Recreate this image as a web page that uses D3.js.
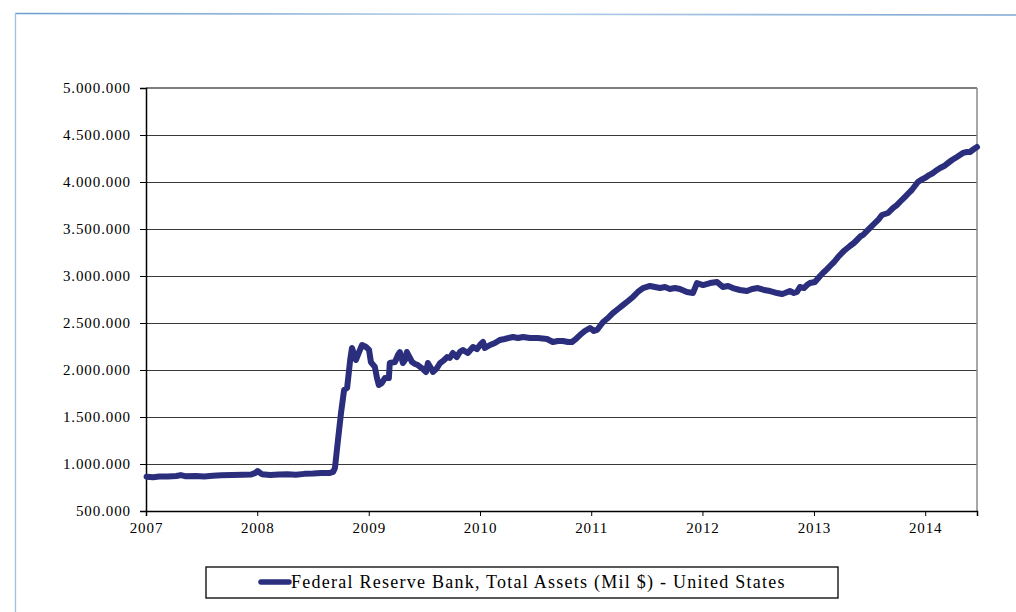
<!DOCTYPE html>
<html>
<head>
<meta charset="utf-8">
<script src="https://cdn.jsdelivr.net/npm/d3@7/dist/d3.min.js"></script>
<style>
html,body{margin:0;padding:0;background:#fff;}
svg{display:block;}
text{font-family:"Liberation Serif","Times New Roman",serif;fill:#000;}
</style>
</head>
<body>
<svg id="chart" width="1016" height="612"></svg>
<script>
// ---- data (values in millions of $) ----
const seriesName = "Federal Reserve Bank, Total Assets (Mil $) - United States";
const dates = [
"2007-01-03","2007-01-24","2007-02-14","2007-03-14","2007-04-11","2007-04-25","2007-05-09","2007-06-13",
"2007-07-11","2007-08-08","2007-09-05","2007-10-10","2007-11-14","2007-12-12","2007-12-26","2008-01-02",
"2008-01-16","2008-02-13","2008-03-12","2008-04-09","2008-05-07","2008-06-04","2008-07-02","2008-07-30",
"2008-08-27","2008-09-06","2008-09-12","2008-09-22","2008-10-02","2008-10-12","2008-10-22","2008-11-01",
"2008-11-07","2008-11-20","2008-11-30","2008-12-10","2008-12-23","2009-01-02","2009-01-08","2009-01-21",
"2009-01-28","2009-02-03","2009-02-13","2009-02-23","2009-03-08","2009-03-11","2009-03-28","2009-04-07",
"2009-04-13","2009-04-23","2009-04-30","2009-05-06","2009-05-16","2009-05-23","2009-06-02","2009-06-11",
"2009-06-24","2009-07-08","2009-07-14","2009-07-24","2009-07-31","2009-08-13","2009-08-23","2009-09-05",
"2009-09-15","2009-09-24","2009-10-04","2009-10-17","2009-10-27","2009-11-06","2009-11-22","2009-12-09",
"2009-12-22","2010-01-04","2010-01-11","2010-01-17","2010-02-03","2010-02-19","2010-03-07","2010-03-23",
"2010-04-19","2010-05-06","2010-05-22","2010-06-14","2010-07-10","2010-08-09","2010-08-28","2010-09-14",
"2010-09-30","2010-10-17","2010-10-30","2010-11-12","2010-11-25","2010-12-11","2010-12-28","2011-01-10",
"2011-01-20","2011-02-09","2011-02-25","2011-03-13","2011-03-30","2011-04-15","2011-05-02","2011-05-18",
"2011-06-03","2011-06-20","2011-07-13","2011-07-29","2011-08-15","2011-08-31","2011-09-16","2011-10-03",
"2011-10-19","2011-11-11","2011-12-01","2011-12-14","2012-01-03","2012-01-26","2012-02-18","2012-03-08",
"2012-03-25","2012-04-10","2012-05-03","2012-05-26","2012-06-12","2012-07-01","2012-07-21","2012-08-10",
"2012-09-02","2012-09-18","2012-09-28","2012-10-14","2012-10-27","2012-11-06","2012-11-16","2012-11-29",
"2012-12-09","2012-12-19","2013-01-04","2013-01-21","2013-02-03","2013-02-13","2013-02-26","2013-03-08",
"2013-03-21","2013-04-03","2013-04-13","2013-04-29","2013-05-12","2013-05-22","2013-06-04","2013-06-11",
"2013-06-24","2013-07-04","2013-07-20","2013-08-02","2013-08-12","2013-09-01","2013-09-17","2013-09-30",
"2013-10-13","2013-10-26","2013-11-08","2013-11-18","2013-11-28","2013-12-08","2013-12-18","2013-12-31",
"2014-01-14","2014-01-27","2014-02-09","2014-02-19","2014-03-04","2014-03-17","2014-03-30","2014-04-15",
"2014-04-25","2014-05-05","2014-05-18","2014-05-28","2014-06-10","2014-06-20"
];
const assets = [
865000,860000,866000,868000,872000,882000,870000,872000,
868000,874000,880000,882000,885000,888000,905000,925000,
892000,882000,888000,890000,886000,895000,898000,904000,
905000,915000,957000,1255000,1543000,1787000,1810000,2106000,
2234000,2106000,2190000,2266000,2245000,2213000,2085000,2032000,
1915000,1840000,1862000,1915000,1915000,2074000,2085000,2160000,
2191000,2074000,2106000,2191000,2128000,2085000,2064000,2053000,
2021000,1979000,2074000,2021000,1979000,2021000,2074000,2106000,
2138000,2128000,2181000,2138000,2191000,2213000,2181000,2245000,
2223000,2277000,2298000,2234000,2266000,2287000,2319000,2330000,
2351000,2340000,2351000,2340000,2340000,2330000,2298000,2309000,
2309000,2298000,2298000,2330000,2372000,2415000,2447000,2415000,
2426000,2511000,2553000,2606000,2649000,2691000,2734000,2777000,
2830000,2872000,2894000,2883000,2872000,2883000,2862000,2872000,
2862000,2830000,2819000,2925000,2904000,2925000,2936000,2883000,
2894000,2872000,2851000,2840000,2862000,2872000,2851000,2840000,
2819000,2808000,2819000,2840000,2819000,2830000,2883000,2872000,
2904000,2925000,2936000,3000000,3043000,3074000,3117000,3149000,
3202000,3245000,3277000,3319000,3351000,3383000,3426000,3436000,
3479000,3511000,3564000,3606000,3649000,3670000,3723000,3755000,
3798000,3840000,3883000,3915000,3957000,4000000,4021000,4043000,
4074000,4096000,4128000,4149000,4170000,4202000,4234000,4266000,
4287000,4309000,4319000,4319000,4351000,4372000
];
const yTicks = [500000,1000000,1500000,2000000,2500000,3000000,3500000,4000000,4500000,5000000];
const xTickYears = [2007,2008,2009,2010,2011,2012,2013,2014];
const xStart = "2007-01-01", xEnd = "2014-06-20";

// ---- chart ----
const svg = d3.select("#chart");
const parse = d3.timeParse("%Y-%m-%d");
const data = dates.map((d,i)=>({date:parse(d), value:assets[i]}));

const pL=146, pR=977, pT=88, pB=511;
const x = d3.scaleTime().domain([parse(xStart), parse(xEnd)]).range([pL, pR]);
const y = d3.scaleLinear().domain([500000, 5000000]).range([pB, pT]);

const loc = d3.formatLocale({decimal:",", thousands:".", grouping:[3], currency:["","€"]});
const fmt = loc.format(",d");

// outer frame (light blue)
const defs = svg.append("defs");
const grad = defs.append("linearGradient").attr("id","fr").attr("x1","0").attr("x2","1").attr("y1","0").attr("y2","0");
grad.append("stop").attr("offset","0").attr("stop-color","#6e9dcc");
grad.append("stop").attr("offset","0.45").attr("stop-color","#b7d1ea");
grad.append("stop").attr("offset","1").attr("stop-color","#7ca7d3");
svg.append("path").attr("d","M15,13.5 L1016,15").attr("stroke","url(#fr)").attr("stroke-width",1.6).attr("fill","none");
svg.append("line").attr("x1",15.5).attr("x2",15.5).attr("y1",13).attr("y2",612).attr("stroke","#9dbfe2").attr("stroke-width",1.3);

// gridlines
svg.append("g").selectAll("line").data(yTicks.filter(v=>v>500000 && v<5000000)).join("line")
  .attr("x1",pL).attr("x2",pR).attr("y1",d=>Math.round(y(d))+0.5).attr("y2",d=>Math.round(y(d))+0.5)
  .attr("stroke","#3a3a3a").attr("stroke-width",1);
// top & right plot border
svg.append("line").attr("x1",pL).attr("x2",pR).attr("y1",pT).attr("y2",pT).attr("stroke","#7f7f7f").attr("stroke-width",2);
svg.append("line").attr("x1",pR).attr("x2",pR).attr("y1",pT).attr("y2",pB).attr("stroke","#8a8a8a").attr("stroke-width",1.5);

// y axis
const yAxis = d3.axisLeft(y).tickValues(yTicks).tickFormat(fmt).tickSize(6).tickPadding(9);
const gy = svg.append("g").attr("transform",`translate(${pL},0)`).call(yAxis);
gy.select(".domain").attr("stroke","#000").attr("stroke-width",1.5);
gy.selectAll(".tick line").attr("stroke","#000");
gy.selectAll("text").style("font-family",'"Liberation Serif",serif').style("font-size","15px").style("letter-spacing","0.9px").attr("fill","#000");

// x axis
const xAxis = d3.axisBottom(x).tickValues(xTickYears.map(yr=>new Date(yr,0,1))).tickFormat(d3.timeFormat("%Y")).tickSize(5).tickPadding(6);
const gx = svg.append("g").attr("transform",`translate(0,${pB})`).call(xAxis);
gx.select(".domain").attr("stroke","#000").attr("stroke-width",1.5);
gx.selectAll(".tick line").attr("stroke","#000");
gx.selectAll("text").style("font-family",'"Liberation Serif",serif').style("font-size","15px").style("letter-spacing","0.9px").attr("fill","#000");

// series line
const line = d3.line().x(d=>x(d.date)).y(d=>y(d.value));
svg.append("path").datum(data).attr("d",line).attr("fill","none")
  .attr("stroke","#2b2e7c").attr("stroke-width",6).attr("stroke-linejoin","round").attr("stroke-linecap","round");

// legend
const lg = svg.append("g");
lg.append("rect").attr("x",206).attr("y",567).attr("width",632).attr("height",31).attr("fill","#fff").attr("stroke","#000").attr("stroke-width",1.3);
lg.append("line").attr("x1",261).attr("x2",289).attr("y1",582).attr("y2",582).attr("stroke","#2b2e7c").attr("stroke-width",5.5).attr("stroke-linecap","round");
lg.append("text").attr("x",291).attr("y",588).style("font-size","18px").style("letter-spacing","1.25px").text(seriesName);
</script>
</body>
</html>
